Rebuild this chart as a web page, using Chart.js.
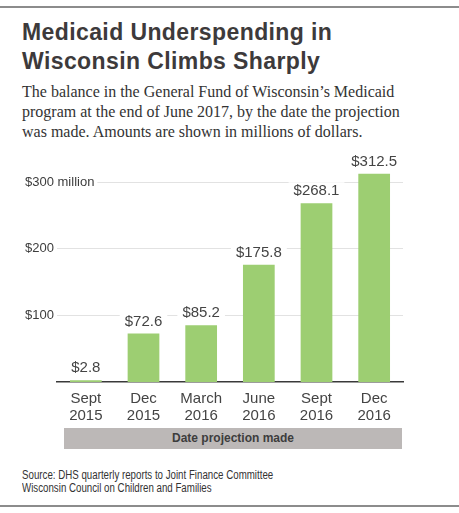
<!DOCTYPE html>
<html>
<head>
<meta charset="utf-8">
<script src="https://cdn.jsdelivr.net/npm/chart.js@4/dist/chart.umd.min.js"></script>
<style>
  body { margin: 0; width: 459px; height: 513px; background: #fff; position: relative; overflow: hidden; font-family: "Liberation Sans", Arial, sans-serif; }
  .rule { position: absolute; left: 0; width: 459px; height: 2px; background: #8c8c8c; }
  #title { position: absolute; left: 22px; top: 18px; margin: 0; font: bold 23px/28.5px "Liberation Sans", Arial, sans-serif; letter-spacing: 0.4px; color: #3d3a3b; }
  #subtitle { position: absolute; left: 22px; top: 82px; margin: 0; font: 16px/20px "Liberation Serif", "Times New Roman", serif; color: #333; }
  #chart_box { position: absolute; left: 0; top: 140px; width: 459px; height: 290px; }
  #band { position: absolute; left: 64px; top: 428px; width: 338px; height: 21px; background: #bcb8b7; color: #3d3d3d; font: bold 12px/21px "Liberation Sans", Arial, sans-serif; text-align: center; }
  #source { position: absolute; left: 22px; top: 469px; margin: 0; font: 12px/13px "Liberation Sans", Arial, sans-serif; color: #333; white-space: nowrap; transform: scaleX(0.81); transform-origin: left top; }
</style>
</head>
<body>
<div class="rule" style="top:6px"></div>
<h1 id="title">Medicaid Underspending in<br>Wisconsin Climbs Sharply</h1>
<p id="subtitle">The balance in the General Fund of Wisconsin’s Medicaid<br>program at the end of June 2017, by the date the projection<br>was made. Amounts are shown in millions of dollars.</p>
<div id="chart_box"><canvas id="balance_chart"></canvas></div>
<div id="band">Date projection made</div>
<p id="source">Source: DHS quarterly reports to Joint Finance Committee<br>Wisconsin Council on Children and Families</p>
<div class="rule" style="top:505px"></div>

<script>
// data
const dates = [['Sept', '2015'], ['Dec', '2015'], ['March', '2016'], ['June', '2016'], ['Sept', '2016'], ['Dec', '2016']];
const balance = [2.8, 72.6, 85.2, 175.8, 268.1, 312.5];
const y_ticks = [100, 200, 300];
const y_tick_labels = ['$100', '$200', '$300 million'];

const text_color = '#444';

// value labels above each bar, white box so the grid line breaks behind them
const value_labels = {
    id: 'value_labels',
    afterDatasetsDraw(chart) {
        let ctx = chart.ctx;
        let meta = chart.getDatasetMeta(0);
        ctx.save();
        ctx.font = '15px "Liberation Sans", Arial, sans-serif';
        ctx.textAlign = 'center';
        ctx.textBaseline = 'middle';
        meta.data.forEach((bar, i) => {
            let label = '$' + balance[i].toFixed(1);
            let w = ctx.measureText(label).width;
            let y = bar.y - 12;
            ctx.fillStyle = '#fff';
            ctx.fillRect(bar.x - w / 2 - 5, y - 9, w + 10, 18);
            ctx.fillStyle = text_color;
            ctx.fillText(label, bar.x, y);
        });
        ctx.restore();
    }
};

let balance_canvas = document.getElementById('balance_chart');

let balance_chart = new Chart(balance_canvas, {
    type: 'bar',
    data: {
        labels: dates,
        datasets: [{
            data: balance,
            backgroundColor: '#9dce72',
            borderWidth: 0,
            categoryPercentage: 1,
            barPercentage: 0.55
        }]
    },
    options: {
        responsive: true,
        maintainAspectRatio: false,
        animation: false,
        layout: { padding: { left: 25, right: 56, top: 22, bottom: 0 } },
        plugins: { legend: { display: false }, tooltip: { enabled: false } },
        scales: {
            x: {
                grid: { display: false },
                border: { display: true, color: '#3a3a3a', width: 1.5 },
                ticks: {
                    color: text_color,
                    font: { family: '"Liberation Sans", Arial, sans-serif', size: 15, lineHeight: 1.15 },
                    padding: 0,
                    maxRotation: 0
                },
                afterFit: (scale) => { scale.height = 48; }
            },
            y: {
                min: 0,
                max: 330,
                border: { display: false },
                grid: { color: '#e2e2e2', lineWidth: 1, drawTicks: false },
                afterBuildTicks: (scale) => { scale.ticks = y_ticks.map(v => ({ value: v })); },
                afterFit: (scale) => { scale.width = 32; },
                ticks: {
                    // mirrored so the long "$300 million" label is not clipped to the axis box
                    mirror: true,
                    padding: -32,
                    color: '#3d3d3d',
                    font: { family: '"Liberation Sans", Arial, sans-serif', size: 13 },
                    showLabelBackdrop: true,
                    backdropColor: '#fff',
                    backdropPadding: { left: 0, right: 3, top: 1, bottom: 1 },
                    callback: (value) => y_tick_labels[y_ticks.indexOf(value)]
                }
            }
        }
    },
    plugins: [value_labels]
});
</script>
</body>
</html>
